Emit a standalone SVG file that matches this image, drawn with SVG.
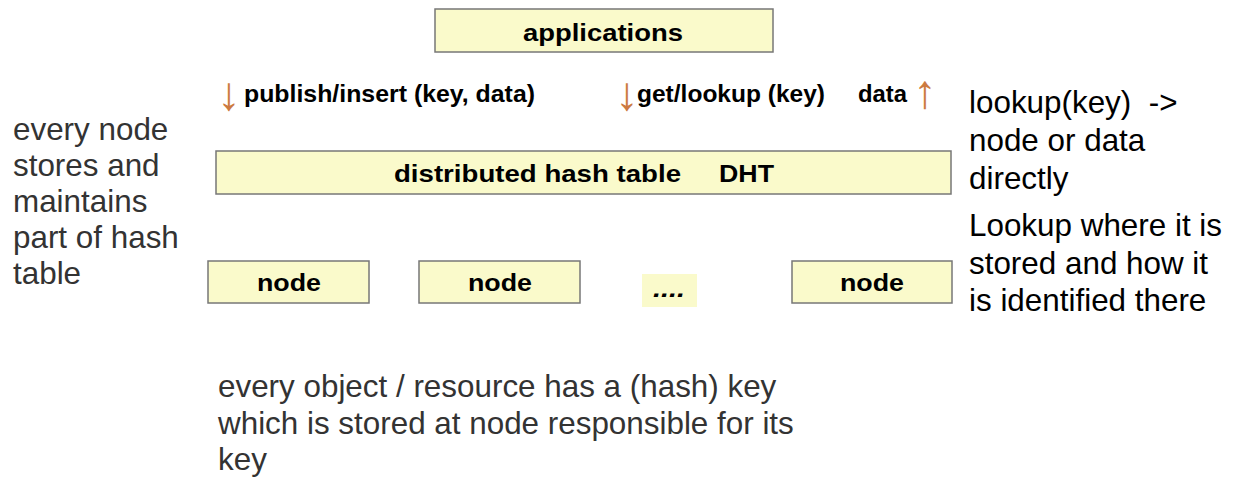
<svg xmlns="http://www.w3.org/2000/svg" width="1233" height="477" viewBox="0 0 1233 477">
<style>
.box{fill:#fafacb;stroke:#777;stroke-width:1.5}
.dots{fill:#fafacb;stroke:none}
.b{font-family:"Liberation Sans",Arial,sans-serif;font-weight:bold;font-size:24.5px;fill:#000}
.n{font-family:"Liberation Sans",Arial,sans-serif;font-size:31.4px}
.g{fill:#333}
.k{fill:#000}
.arr{font-family:"Liberation Sans",Arial,sans-serif;font-size:47px;fill:#cc7a40}
</style>
<rect width="1233" height="477" fill="#fff"/>
<g id="applications">
<rect class="box" x="435" y="9" width="338" height="43"/>
<text class="b" x="523" y="41" textLength="160" lengthAdjust="spacingAndGlyphs">applications</text>
</g>
<g id="connectors">
<text class="arr" x="217" y="110">↓</text>
<text class="b" x="244" y="102" textLength="291" lengthAdjust="spacingAndGlyphs">publish/insert (key, data)</text>
<text class="arr" x="615" y="110">↓</text>
<text class="b" x="637" y="102" textLength="188" lengthAdjust="spacingAndGlyphs">get/lookup (key)</text>
<text class="b" x="858" y="102" textLength="49" lengthAdjust="spacingAndGlyphs">data</text>
<text class="arr" x="913" y="108">↑</text>
</g>
<g id="dht">
<rect class="box" x="216" y="151" width="735" height="43"/>
<text class="b" x="394" y="182" textLength="287" lengthAdjust="spacingAndGlyphs">distributed hash table</text>
<text class="b" x="719" y="182" textLength="55" lengthAdjust="spacingAndGlyphs">DHT</text>
</g>
<g id="node1">
<rect class="box" x="208" y="261" width="161" height="42"/>
<text class="b" x="257" y="291" textLength="64" lengthAdjust="spacingAndGlyphs">node</text>
</g>
<g id="node2">
<rect class="box" x="419" y="261" width="161" height="42"/>
<text class="b" x="468" y="291" textLength="64" lengthAdjust="spacingAndGlyphs">node</text>
</g>
<g id="dots">
<rect class="dots" x="642" y="274" width="55" height="33"/>
<text class="b" x="653" y="297" font-style="italic" textLength="32" lengthAdjust="spacingAndGlyphs">....</text>
</g>
<g id="node3">
<rect class="box" x="792" y="261" width="160" height="42"/>
<text class="b" x="840" y="291" textLength="64" lengthAdjust="spacingAndGlyphs">node</text>
</g>
<g id="left-note">
<text class="n g" x="13" y="140">every node</text>
<text class="n g" x="13" y="176">stores and</text>
<text class="n g" x="13" y="212">maintains</text>
<text class="n g" x="13" y="248">part of hash</text>
<text class="n g" x="13" y="284">table</text>
</g>
<g id="right-note">
<text class="n k" x="969" y="113" xml:space="preserve">lookup(key)  -&gt;</text>
<text class="n k" x="969" y="151">node or data</text>
<text class="n k" x="969" y="189">directly</text>
<text class="n k" x="969" y="236">Lookup where it is</text>
<text class="n k" x="969" y="274">stored and how it</text>
<text class="n k" x="969" y="311">is identified there</text>
</g>
<g id="bottom-note">
<text class="n g" x="218" y="397">every object / resource has a (hash) key</text>
<text class="n g" x="218" y="434">which is stored at node responsible for its</text>
<text class="n g" x="218" y="470">key</text>
</g>
</svg>
